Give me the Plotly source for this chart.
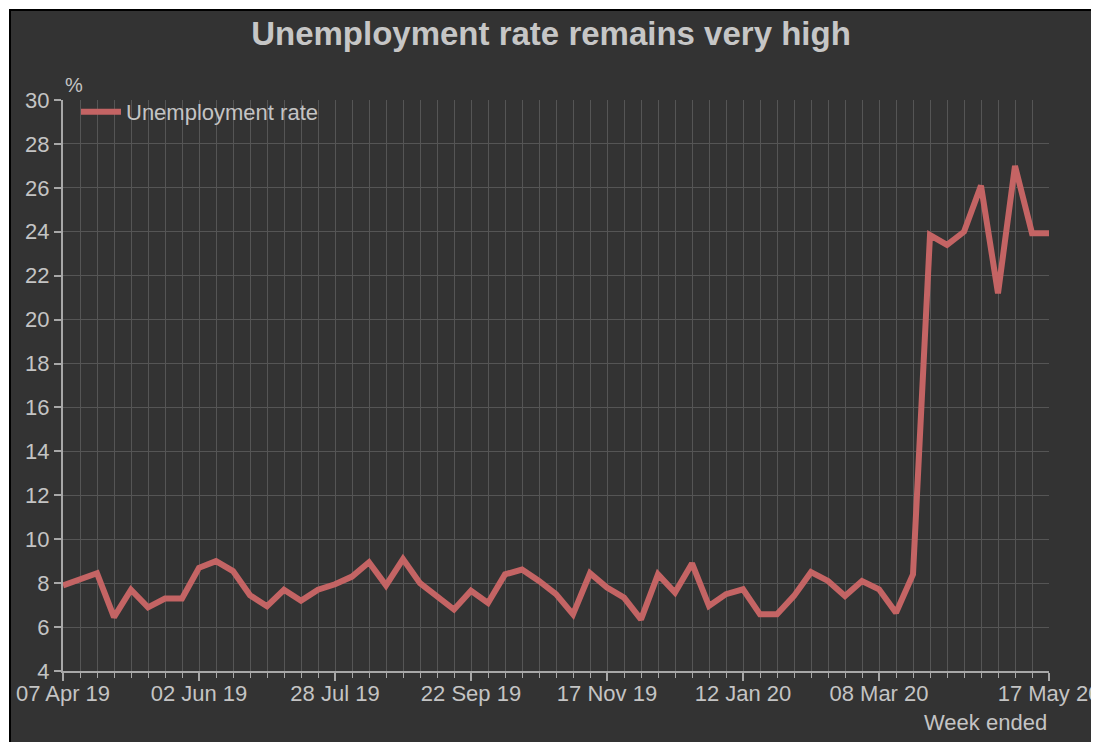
import pandas as pd
import plotly.graph_objects as go

# Week-ended dates (weekly, 07 Apr 2019 .. 17 May 2020)
weeks = pd.date_range("2019-04-07", "2020-05-17", freq="7D")

unemployment_rate = [
    7.9, 8.15, 8.45, 6.45, 7.7, 6.9, 7.3, 7.3, 8.7, 9.0,
    8.55, 7.45, 6.95, 7.7, 7.2, 7.7, 7.95, 8.3, 8.95, 7.9,
    9.1, 8.0, 7.4, 6.8, 7.65, 7.1, 8.4, 8.62, 8.1, 7.5,
    6.58, 8.45, 7.8, 7.34, 6.35, 8.4, 7.57, 8.9, 6.96, 7.5,
    7.72, 6.58, 6.58, 7.42, 8.5, 8.1, 7.42, 8.1, 7.72, 6.65,
    8.4, 23.85, 23.4, 24.0, 26.1, 21.2, 27.0, 23.93, 23.93,
]

tick_dates = ["2019-04-07", "2019-06-02", "2019-07-28", "2019-09-22",
              "2019-11-17", "2020-01-12", "2020-03-08", "2020-05-17"]
tick_labels = ["07 Apr 19", "02 Jun 19", "28 Jul 19", "22 Sep 19",
               "17 Nov 19", "12 Jan 20", "08 Mar 20", "17 May 20"]

BG = "#333333"
GRID = "#555555"
AXIS = "#a8a8a8"
TXT = "#c4c4c4"
LINE = "#c46464"
FONT = "Liberation Sans, Arial, sans-serif"

OFF = 8  # page body margin
W, H = 1099 - OFF, 742 - OFF
L, R, T, B = 63 - OFF, 50, 100 - OFF, 71
pw, ph = W - L - R, H - T - B

def px_x(p):
    return (p - OFF - L) / pw

def px_y(p):
    return (H - B - (p - OFF)) / ph

fig = go.Figure()
fig.add_trace(go.Scatter(
    x=weeks, y=unemployment_rate, mode="lines", name="Unemployment rate",
    line=dict(color=LINE, width=6),
))

fig.update_layout(
    width=W, height=H,
    margin=dict(l=L, r=R, t=T, b=B),
    paper_bgcolor="#ffffff",
    plot_bgcolor="rgba(0,0,0,0)",
    font=dict(family=FONT, color=TXT, size=22),
    title=dict(text="<b>Unemployment rate remains very high</b>",
               x=px_x(551), xref="paper", xanchor="center",
               y=1 - (33 - OFF) / H, yref="container", yanchor="middle",
               font=dict(size=33, color="#c6c6c6", family=FONT)),
    showlegend=True,
    legend=dict(x=px_x(76), y=px_y(91), xanchor="left", yanchor="top",
                itemwidth=40,
                bgcolor="rgba(0,0,0,0)", font=dict(size=22, color=TXT)),
    shapes=[dict(type="rect", xref="paper", yref="paper",
                 x0=px_x(10), x1=px_x(1104), y0=px_y(748), y1=px_y(10),
                 fillcolor=BG, line=dict(color="#000000", width=2),
                 layer="below")],
    annotations=[
        dict(text="%", xref="paper", yref="paper", x=px_x(74), y=px_y(85),
             xanchor="center", yanchor="middle",
             showarrow=False, font=dict(size=20, color=TXT)),
        dict(text="Week ended", xref="paper", yref="paper", x=1.0, y=px_y(722),
             xanchor="right", yanchor="middle",
             showarrow=False, font=dict(size=22, color=TXT)),
    ],
)

fig.update_xaxes(
    type="date",
    range=[weeks[0], weeks[-1]],
    tickmode="array", tickvals=tick_dates, ticktext=tick_labels,
    showgrid=True, gridcolor=GRID, gridwidth=1,
    showline=True, linecolor=AXIS, linewidth=2,
    ticks="outside", ticklen=8, tickcolor=AXIS, tickwidth=2,
    tickfont=dict(size=22, color=TXT),
    ticklabelstandoff=-6,
    ticklabeloverflow="allow",
    automargin=False,
    minor=dict(tickmode="linear", tick0="2019-04-07", dtick=7 * 86400000,
               showgrid=True, gridcolor=GRID, gridwidth=1,
               ticks="outside", ticklen=5, tickcolor=AXIS, tickwidth=1),
    zeroline=False,
)
fig.update_yaxes(
    range=[4, 30], dtick=2, tick0=0,
    showgrid=True, gridcolor=GRID, gridwidth=1,
    showline=True, linecolor=AXIS, linewidth=2,
    ticks="outside", ticklen=7, tickcolor=AXIS, tickwidth=2,
    tickfont=dict(size=22, color=TXT),
    automargin=False,
    zeroline=False,
)

fig.write_html("out.html")
